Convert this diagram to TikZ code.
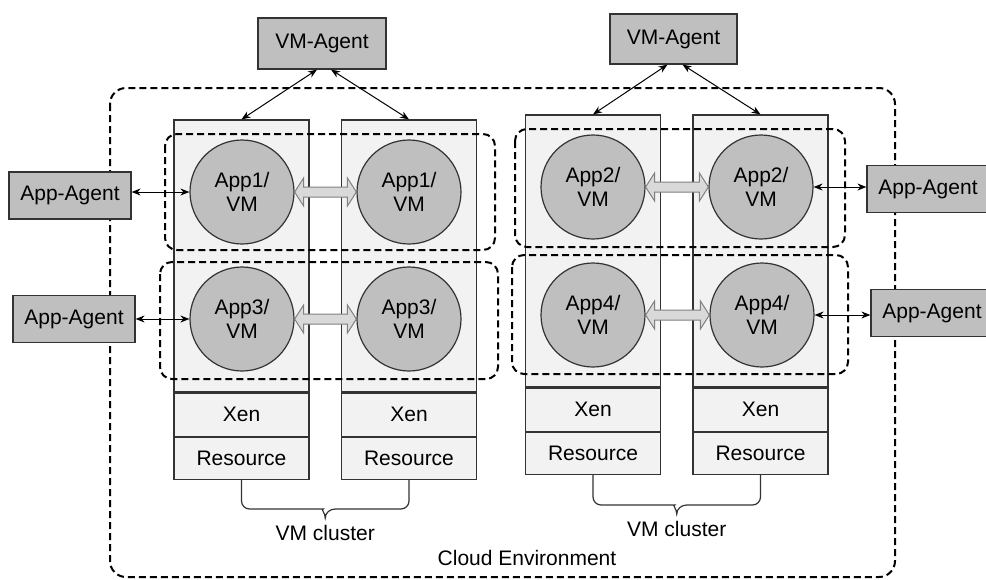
\documentclass[tikz,border=0pt]{standalone}
\usepackage{fontspec}
\setmainfont{Liberation Sans}
\usetikzlibrary{positioning,calc,arrows.meta}
\tikzset{
agent/.style={
  rectangle,
  draw=black!80,
  fill=black!25,
  line width=0.6pt,
  minimum width=61pt,
  minimum height=23.5pt,
  inner sep=0pt
},
vm/.style={circle, draw=black!80, fill=black!25, line width=0.6pt, minimum size=52pt, inner sep=0pt, align=center},
column/.style={rectangle, draw=black!80, fill=black!5, line width=0.6pt, minimum width=67.5pt, minimum height=136pt, inner sep=0pt},
layer/.style={column, minimum height=21.5pt},
group/.style={draw=black, line width=1pt, dash pattern=on 3.5pt off 2pt, rounded corners=6pt},
link/.style={{Stealth[length=4.5pt,width=3.5pt]}-{Stealth[length=4.5pt,width=3.5pt]}, black, line width=0.5pt},
fatarrow/.style={draw=black!50, fill=black!15, line width=0.5pt},
brace/.style={draw=black!80, line width=0.6pt}
}
% fat double arrow between two vms
\newcommand{\fatlink}[2]{%
  \draw[fatarrow] (#1.east) -- ++(4.5pt,7pt) -- ++(0pt,-4.5pt)
    -- ($(#2.west)+(-4.5pt,2.5pt)$) -- ++(0pt,4.5pt) -- (#2.west)
    -- ++(-4.5pt,-7pt) -- ++(0pt,4.5pt)
    -- ($(#1.east)+(4.5pt,-2.5pt)$) -- ++(0pt,-4.5pt) -- cycle;}

\begin{document}
\begin{tikzpicture}[x=0.5pt,y=-0.5pt,font=\fontsize{10.5}{12}\selectfont]
\useasboundingbox (0,0) rectangle (986,579);
% the cloud
\draw[group, rounded corners=8pt] (110,88) rectangle (895,577);
\node (cloud) at (527,558) {Cloud Environment};
% the vm columns
\node (vmA) [column] at (241.5,256) {};
\node (vmB) [column] at (409,256) {};
\node (vmC) [column] at (593,251) {};
\node (vmD) [column] at (760.5,251) {};
\foreach \c in {A,B,C,D}
{
  \node (xen\c) [layer, below=0pt of vm\c] {Xen};
  \node (res\c) [layer, minimum height=21pt, below=0pt of xen\c] {Resource};
}
% the app groups
\draw[group] (165,134) rectangle (495,250);
\draw[group] (160,262) rectangle (498,379);
\draw[group] (515,129) rectangle (845,247);
\draw[group] (512,255) rectangle (848,374);
% the vms
\node (app1a) [vm] at (242,192) {App1/\\VM};
\node (app1b) [vm] at (409,192) {App1/\\VM};
\node (app3a) [vm] at (242,319) {App3/\\VM};
\node (app3b) [vm] at (409,319) {App3/\\VM};
\node (app2a) [vm] at (593,187) {App2/\\VM};
\node (app2b) [vm] at (761,187) {App2/\\VM};
\node (app4a) [vm] at (593,315) {App4/\\VM};
\node (app4b) [vm] at (762,315) {App4/\\VM};
\fatlink{app1a}{app1b}
\fatlink{app3a}{app3b}
\fatlink{app2a}{app2b}
\fatlink{app4a}{app4b}
% the agents
\node (vmagL) [agent, minimum width=64pt, minimum height=25.5pt] at (322,43.5) {VM-Agent};
\node (vmagR) [agent, minimum width=63.5pt, minimum height=25pt] at (673.5,39) {VM-Agent};
\node (appag1) [agent] at (70,195.5) {App-Agent};
\node (appag3) [agent] at (74,319) {App-Agent};
\node (appag2) [agent] at (928,189) {App-Agent};
\node (appag4) [agent] at (932,313) {App-Agent};
% the arrows
\draw[link] ([xshift=-2.5pt]vmagL.south) -- (vmA.north);
\draw[link] ([xshift=4.5pt]vmagL.south) -- (vmB.north);
\draw[link] ([xshift=-3pt]vmagR.south) -- (vmC.north);
\draw[link] ([xshift=4.5pt]vmagR.south) -- (vmD.north);
\draw[link] (appag1.east |- app1a) -- (app1a.west);
\draw[link] (appag3.east |- app3a) -- (app3a.west);
\draw[link] (app2b.east) -- (appag2.west |- app2b);
\draw[link] (app4b.east) -- (appag4.west |- app4b);
% the clusters
\coordinate (tipL) at ($(resA.south)!0.5!(resB.south)+(0,38)$);
\coordinate (tipR) at ($(resC.south)!0.5!(resD.south)+(0,39)$);
\draw[brace] (resA.south) [rounded corners=4pt] |- ($(tipL)+(-10,-9)$) [sharp corners]
  to[out=0,in=90] (tipL) to[out=90,in=180] ($(tipL)+(10,-9)$) [rounded corners=4pt] -| (resB.south);
\draw[brace] (resC.south) [rounded corners=4pt] |- ($(tipR)+(-10,-9)$) [sharp corners]
  to[out=0,in=90] (tipR) to[out=90,in=180] ($(tipR)+(10,-9)$) [rounded corners=4pt] -| (resD.south);
\node (clusterL) [below=0pt of tipL] {VM cluster};
\node (clusterR) [below=0pt of tipR] {VM cluster};
\end{tikzpicture}
\end{document}
